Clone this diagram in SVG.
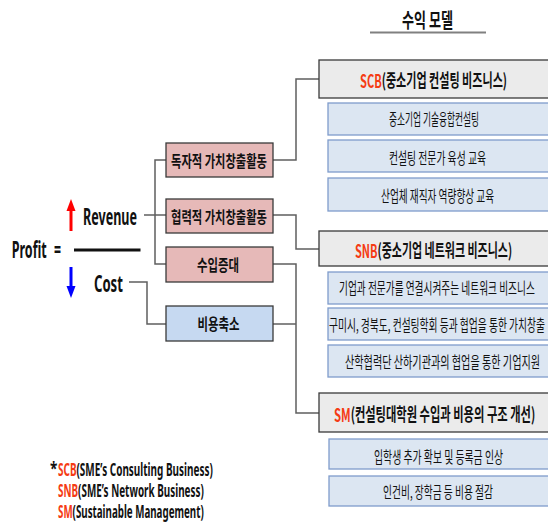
<svg xmlns="http://www.w3.org/2000/svg" width="548" height="523" viewBox="0 0 548 523">
<defs>
<style>
text{font-family:"Noto Sans CJK KR","Noto Sans",sans-serif;dominant-baseline:central;fill:#111}
.t{font-size:18px;font-weight:700}
.s{font-size:16px;font-weight:400}
.l{font-size:16px;font-weight:700}
.big{font-family:"Noto Sans","Noto Sans CJK KR",sans-serif;font-size:23px;font-weight:700}
.fn{font-family:"Noto Sans","Noto Sans CJK KR",sans-serif;font-size:17px;font-weight:700}
.red{fill:#f53b14}
.hd{fill:#ebebeb;stroke:#3a3a3a;stroke-width:1.3}
.sub{fill:#dce6f2;stroke:#7f9ccb;stroke-width:1.3}
.pk{fill:#e6b9b8;stroke:#3a3a3a;stroke-width:1.3}
.bl{fill:#c6d9f1;stroke:#3a3a3a;stroke-width:1.3}
.c{fill:none;stroke:#5f5f5f;stroke-width:1.5}
</style>
</defs>
<rect width="548" height="523" fill="#ffffff"/>
<g id="title">
<text transform="translate(402,20) scale(0.6,1)" textLength="85" lengthAdjust="spacingAndGlyphs" style="font-size:20px;font-weight:700">수익 모델</text>
<path d="M370,32.5 H486" stroke="#808080" stroke-width="2"/>
</g>
<g id="connectors">
<path class="c" d="M144,215 H166"/>
<path class="c" d="M166,160 H155 V264 H166"/>
<path class="c" d="M129,282 H147 V324 H166"/>
<path class="c" d="M273,160 H296 V79 H319"/>
<path class="c" d="M273,215 H296 V249 H319"/>
<path class="c" d="M273,264 H296 V413 H319"/>
<path class="c" d="M273,324 H296"/>
</g>
<g id="profit">
<text class="big" transform="translate(11.7,249) scale(0.555,1)" textLength="63" lengthAdjust="spacingAndGlyphs">Profit</text>
<text class="big" transform="translate(54,249) scale(0.54,1)" textLength="13" lengthAdjust="spacingAndGlyphs">=</text>
<path d="M74,250 H140.5" stroke="#111" stroke-width="3"/>
</g>
<g id="revenue">
<path d="M71,231 V209" stroke="#ff0000" stroke-width="3"/>
<polygon points="66.5,211 71,199 75.5,211" fill="#ff0000"/>
<text class="big" transform="translate(83,216) scale(0.556,1)" textLength="97" lengthAdjust="spacingAndGlyphs">Revenue</text>
</g>
<g id="cost">
<path d="M71,267 V288" stroke="#0000ff" stroke-width="3"/>
<polygon points="66.5,286 71,298 75.5,286" fill="#0000ff"/>
<text class="big" transform="translate(94,283) scale(0.59,1)" textLength="49" lengthAdjust="spacingAndGlyphs">Cost</text>
</g>
<g id="n-dokja">
<rect class="pk" x="166" y="143" width="107" height="34"/>
<text class="l" transform="translate(171,160) scale(0.65,1)" textLength="147.7" lengthAdjust="spacingAndGlyphs">독자적 가치창출활동</text>
</g>
<g id="n-hyeop">
<rect class="pk" x="166" y="199" width="107" height="34"/>
<text class="l" transform="translate(171,215.5) scale(0.65,1)" textLength="147.7" lengthAdjust="spacingAndGlyphs">협력적 가치창출활동</text>
</g>
<g id="n-suip">
<rect class="pk" x="166" y="247" width="107" height="35"/>
<text class="l" transform="translate(197,263.5) scale(0.656,1)" textLength="64" lengthAdjust="spacingAndGlyphs">수입증대</text>
</g>
<g id="n-biyong">
<rect class="bl" x="166" y="306" width="107" height="35"/>
<text class="l" transform="translate(197.5,323) scale(0.656,1)" textLength="64" lengthAdjust="spacingAndGlyphs">비용축소</text>
</g>
<g id="n-scb">
<rect class="hd" x="319" y="60" width="240" height="38"/>
<text class="t" transform="translate(360,79) scale(0.588,1)" textLength="250" lengthAdjust="spacingAndGlyphs"><tspan class="red">SCB</tspan>(중소기업 컨설팅 비즈니스)</text>
</g>
<g id="n-scb1">
<rect class="sub" x="328" y="103" width="230" height="32"/>
<text class="s" transform="translate(389,118.5) scale(0.5,1)" textLength="180" lengthAdjust="spacingAndGlyphs">중소기업 기술융합컨설팅</text>
</g>
<g id="n-scb2">
<rect class="sub" x="328" y="140" width="230" height="32"/>
<text class="s" transform="translate(389,157) scale(0.567,1)" textLength="171" lengthAdjust="spacingAndGlyphs">컨설팅 전문가 육성 교육</text>
</g>
<g id="n-scb3">
<rect class="sub" x="328" y="178" width="230" height="33"/>
<text class="s" transform="translate(381,195) scale(0.557,1)" textLength="203" lengthAdjust="spacingAndGlyphs">산업체 재직자 역량향상 교육</text>
</g>
<g id="n-snb">
<rect class="hd" x="319" y="231" width="240" height="35"/>
<text class="t" transform="translate(355,249) scale(0.584,1)" textLength="269" lengthAdjust="spacingAndGlyphs"><tspan class="red">SNB</tspan>(중소기업 네트워크 비즈니스)</text>
</g>
<g id="n-snb1">
<rect class="sub" x="328" y="272" width="230" height="32"/>
<text class="s" transform="translate(339,287.5) scale(0.535,1)" textLength="366" lengthAdjust="spacingAndGlyphs">기업과 전문가를 연결시켜주는 네트워크 비즈니스</text>
</g>
<g id="n-snb2">
<rect class="sub" x="328" y="308" width="230" height="32"/>
<text class="s" transform="translate(329,324) scale(0.567,1)" textLength="381" lengthAdjust="spacingAndGlyphs">구미시, 경북도, 컨설팅학회 등과 협업을 통한 가치창출</text>
</g>
<g id="n-snb3">
<rect class="sub" x="328" y="345" width="230" height="32"/>
<text class="s" transform="translate(345,361) scale(0.584,1)" textLength="334" lengthAdjust="spacingAndGlyphs">산학협력단 산하기관과의 협업을 통한 기업지원</text>
</g>
<g id="n-sm">
<rect class="hd" x="319" y="393" width="240" height="39"/>
<text class="t" transform="translate(334,413) scale(0.59,1)" textLength="341" lengthAdjust="spacingAndGlyphs"><tspan class="red">SM</tspan>(컨설팅대학원 수입과 비용의 구조 개선)</text>
</g>
<g id="n-sm1">
<rect class="sub" x="329" y="439" width="230" height="30"/>
<text class="s" transform="translate(374,456) scale(0.571,1)" textLength="226" lengthAdjust="spacingAndGlyphs">입학생 추가 확보 및 등록금 인상</text>
</g>
<g id="n-sm2">
<rect class="sub" x="329" y="476" width="230" height="30"/>
<text class="s" transform="translate(383,491.5) scale(0.567,1)" textLength="194" lengthAdjust="spacingAndGlyphs">인건비, 장학금 등 비용 절감</text>
</g>
<g id="footnote">
<text class="fn" transform="translate(50,469) scale(0.8,1)">*</text>
<text class="fn" transform="translate(58,469) scale(0.6,1)" textLength="258" lengthAdjust="spacingAndGlyphs"><tspan class="red">SCB</tspan>(SME’s Consulting Business)</text>
<text class="fn" transform="translate(58,490) scale(0.6,1)" textLength="243" lengthAdjust="spacingAndGlyphs"><tspan class="red">SNB</tspan>(SME’s Network Business)</text>
<text class="fn" transform="translate(58,511) scale(0.59,1)" textLength="247" lengthAdjust="spacingAndGlyphs"><tspan class="red">SM</tspan>(Sustainable Management)</text>
</g>
</svg>
